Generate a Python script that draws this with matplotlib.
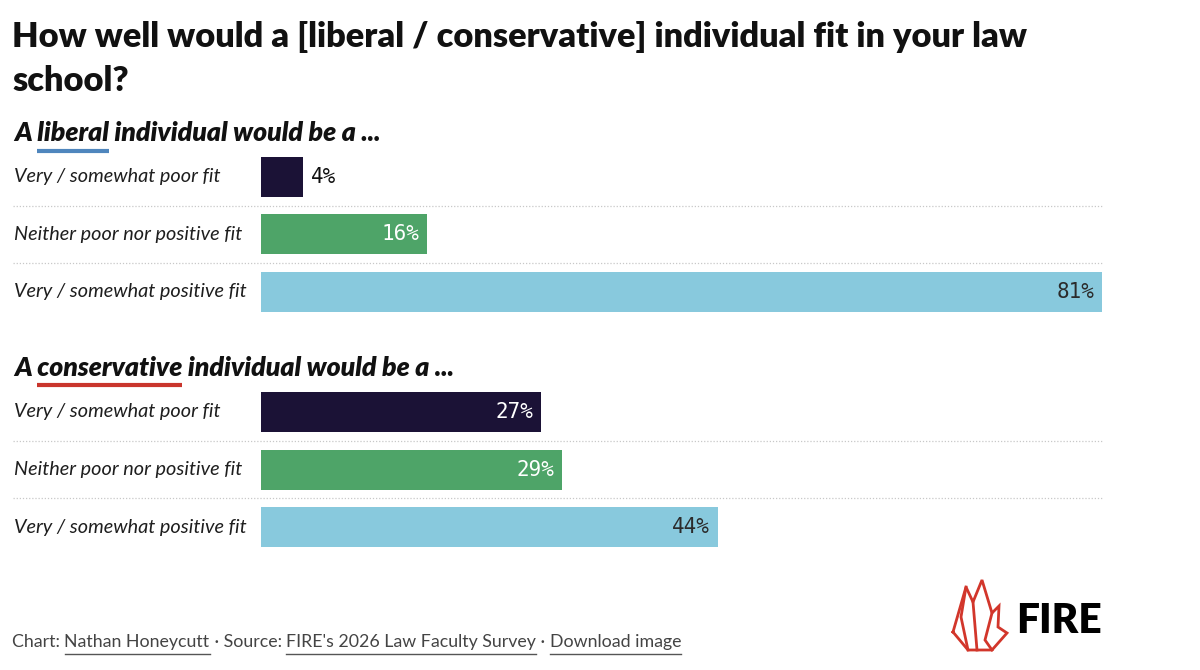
import matplotlib
matplotlib.use('Agg')
import matplotlib.pyplot as plt
import matplotlib.transforms as mtransforms
import numpy as np

#----------- Data -----------#
title_lines = ['How well would a [liberal / conservative] individual fit in your law',
               'school?']
groups = ['liberal', 'conservative']
group_colors = ['#4f86bd', '#c9352c']
categories = ['Very / somewhat poor fit',
              'Neither poor nor positive fit',
              'Very / somewhat positive fit']
liberal_vals = [4, 16, 81]
conservative_vals = [27, 29, 44]
bar_colors = ['#1b1236', '#4ea468', '#88c9dd']
label_colors = ['white', 'white', '#2b2b2b']
footer_parts = [('Chart: ', False), ('Nathan Honeycutt', True), (' \u00b7 Source: ', False),
                ("FIRE's 2026 Law Faculty Survey", True), (' \u00b7 ', False),
                ('Download image', True)]

W, H = 1200, 670
fig = plt.figure(figsize=(12, 6.7), dpi=100)
fig.patch.set_facecolor('white')

def fx(px):
    return px / W

def fy(py):
    return 1 - py / H

fig.canvas.draw()
renderer = fig.canvas.get_renderer()

def text_w(s, **kw):
    # width in pixels, trailing/leading spaces included
    t = fig.text(0, 0, 'x' + s + 'x', **kw)
    w = t.get_window_extent(renderer).width
    t.remove()
    t = fig.text(0, 0, 'xx', **kw)
    w -= t.get_window_extent(renderer).width
    t.remove()
    return w

def fit_size(s, target, **kw):
    # font size that makes s about target px wide
    kw = dict(kw)
    kw['fontsize'] = 20
    return 20 * target / text_w(s, **kw)

#----------- Axes for bars -----------#
# row unit = 57.5 px, first bar centre at y=177 px
row_px = 57.5
ax_top, ax_bot = 140, 560
ax = fig.add_axes([fx(261), fy(ax_bot), fx(1102) - fx(261), (ax_bot - ax_top) / H])
ax.set_xlim(0, 81)
ax.set_ylim((ax_bot - 177) / row_px, -(177 - ax_top) / row_px)
ax.axis('off')

group_offset = (412 - 177) / row_px
all_vals = [liberal_vals, conservative_vals]
blend = mtransforms.blended_transform_factory(fig.transFigure, ax.transData)

cat_font = dict(family='Lato', style='italic', color='#1e1e1e')
cat_font['fontsize'] = fit_size(categories[0], 206, **cat_font)
val_font = dict(fontfamily='DejaVu Sans Mono', fontsize=15)
head_font = dict(family='Lato', style='italic', weight='heavy', color='#111111')
head_font['fontsize'] = fit_size('A liberal individual would be a ...', 368, **head_font)

for g, vals in enumerate(all_vals):
    ys = np.arange(len(vals)) + g * group_offset
    ax.barh(ys, vals, height=40 / row_px, color=bar_colors, edgecolor='none')
    for i, (y, v) in enumerate(zip(ys, vals)):
        fig.text(fx(14), y, categories[i], va='center', ha='left',
                 transform=blend, **cat_font)
        if v < 8:
            ax.annotate(f'{v}%', (v, y), xytext=(8, 0), textcoords='offset pixels',
                        va='center', ha='left', color='#111111', **val_font)
        else:
            ax.annotate(f'{v}%', (v, y), xytext=(-8, 0), textcoords='offset pixels',
                        va='center', ha='right', color=label_colors[i], **val_font)
    # dotted separators
    for y in ys[:-1] + 0.5:
        ax.plot([fx(13), fx(1102)], [y, y], transform=blend, color='#c8c8c8',
                lw=0.9, ls=(0, (1, 1.5)), clip_on=False)

    # group header with coloured underline
    head_y = fy(133 if g == 0 else 368)
    word = groups[g]
    fig.text(fx(14), head_y, f'A {word} individual would be a ...', va='center',
             ha='left', **head_font)
    pre = text_w('A ', **head_font)
    wlen = text_w(word, **head_font)
    x0 = 14 + pre
    uy = fy(151 if g == 0 else 385)
    fig.add_artist(plt.Line2D([fx(x0), fx(x0 + wlen)], [uy, uy], color=group_colors[g],
                              lw=3, solid_capstyle='butt'))

#----------- Title -----------#
title_font = dict(family='Lato', weight='heavy', color='#111111')
title_font['fontsize'] = fit_size(title_lines[0], 1018, **title_font)
fig.text(fx(12), fy(47), title_lines[0], va='baseline', ha='left', **title_font)
fig.text(fx(12), fy(91), title_lines[1], va='baseline', ha='left', **title_font)

#----------- Footer -----------#
foot_font = dict(family='Lato', weight='normal', color='#444444')
foot_font['fontsize'] = fit_size(''.join(p[0] for p in footer_parts), 669, **foot_font)
x = 12
for s, underline in footer_parts:
    fig.text(fx(x), fy(647), s, va='baseline', ha='left', **foot_font)
    w = text_w(s, **foot_font)
    if underline:
        fig.add_artist(plt.Line2D([fx(x), fx(x + w)], [fy(654), fy(654)],
                                  color='#555555', lw=1))
    x += w

#----------- FIRE logo -----------#
flame = [(953, 632), (966, 587), (973, 602), (982, 580), (992, 613), (999, 606),
         (998, 627), (1007, 633), (992, 650), (968, 650), (953, 632)]
inner1 = [(966, 587), (961, 617), (968, 650)]
inner2 = [(973, 602), (977, 650)]
inner3 = [(992, 613), (985, 640), (992, 650)]
for pts in [flame, inner1, inner2, inner3]:
    xs = [fx(p[0]) for p in pts]
    ys = [fy(p[1]) for p in pts]
    fig.add_artist(plt.Line2D(xs, ys, color='#d2362b', lw=2, solid_joinstyle='miter'))
logo_font = dict(family='Lato', weight='heavy', color='black')
logo_font['fontsize'] = fit_size('FIRE', 86, **logo_font)
fig.text(fx(1102), fy(633), 'FIRE', ha='right', va='baseline', **logo_font)

fig.savefig('out.png', dpi=100, facecolor='white')
